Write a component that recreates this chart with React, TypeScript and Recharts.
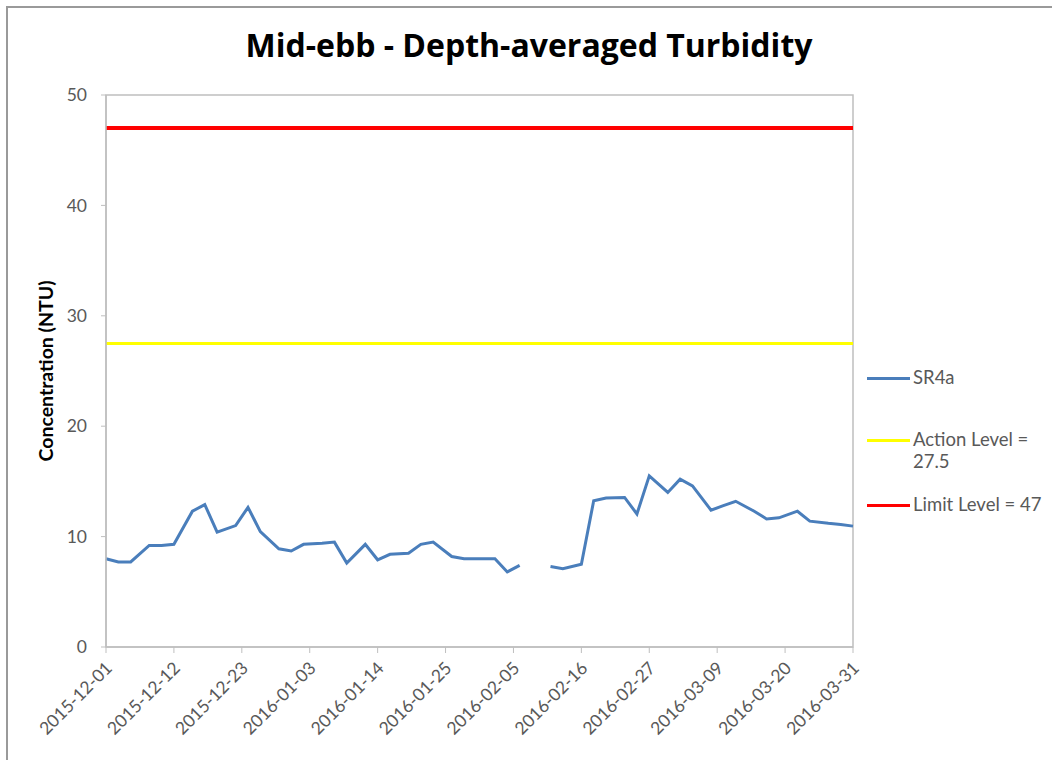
import React from 'react';
import { LineChart, Line, XAxis, YAxis, ReferenceLine, ReferenceArea, Legend } from 'recharts';

// 測定日と濁度（SR4a）
const DATES = [
  '2015-12-01', '2015-12-03', '2015-12-05', '2015-12-08', '2015-12-10', '2015-12-12',
  '2015-12-15', '2015-12-17', '2015-12-19', '2015-12-22', '2015-12-24', '2015-12-26',
  '2015-12-29', '2015-12-31', '2016-01-02', '2016-01-05', '2016-01-07', '2016-01-09',
  '2016-01-12', '2016-01-14', '2016-01-16', '2016-01-19', '2016-01-21', '2016-01-23',
  '2016-01-26', '2016-01-28', '2016-01-30', '2016-02-02', '2016-02-04', '2016-02-06',
  '2016-02-09', '2016-02-11', '2016-02-13', '2016-02-16', '2016-02-18', '2016-02-20',
  '2016-02-23', '2016-02-25', '2016-02-27', '2016-03-01', '2016-03-03', '2016-03-05',
  '2016-03-08', '2016-03-10', '2016-03-12', '2016-03-15', '2016-03-17', '2016-03-19',
  '2016-03-22', '2016-03-24', '2016-03-27', '2016-03-29', '2016-03-31',
];

const SR4A: (number | null)[] = [
  8.0, 7.7, 7.7, 9.2, 9.2, 9.3,
  12.3, 12.9, 10.4, 11.0, 12.65, 10.45,
  8.9, 8.7, 9.3, 9.4, 9.5, 7.6,
  9.3, 7.9, 8.4, 8.5, 9.3, 9.5,
  8.2, 8.0, 8.0, 8.0, 6.8, 7.4,
  null, 7.3, 7.1, 7.5, 13.25, 13.5,
  13.55, 12.05, 15.5, 14.0, 15.2, 14.6,
  12.4, 12.8, 13.2, 12.3, 11.6, 11.7,
  12.3, 11.4, 11.2, 11.1, 10.95,
];

const ACTION_LEVEL = 27.5;
const LIMIT_LEVEL = 47;

const X_TICKS = [
  '2015-12-01', '2015-12-12', '2015-12-23', '2016-01-03', '2016-01-14', '2016-01-25',
  '2016-02-05', '2016-02-16', '2016-02-27', '2016-03-09', '2016-03-20', '2016-03-31',
];
const Y_TICKS = [0, 10, 20, 30, 40, 50];

const LEGEND_ITEMS = [
  { label: ['SR4a'], color: '#4A7EBB' },
  { label: ['Action Level =', '27.5'], color: '#FFFF00' },
  { label: ['Limit Level = 47'], color: '#FF0000' },
];

const FONT = 'Lato, "Open Sans", sans-serif';
const GREY = '#595959';

const toTime = (d: string) => Date.parse(d);
const toLabel = (t: number) => new Date(t).toISOString().slice(0, 10);

const data = DATES.map((d, i) => ({ t: toTime(d), value: SR4A[i] }));
const xStart = toTime(DATES[0]);
const xEnd = toTime(DATES[DATES.length - 1]);

// 斜め45度の日付ラベル
function DateTick(props: any) {
  const { x, y, payload } = props;
  return (
    <g transform={`translate(${x + 3},${y + 10})`}>
      <text
        x={0}
        y={6}
        textAnchor="end"
        fill={GREY}
        fontSize={17.5}
        fontFamily={FONT}
        transform="rotate(-45)"
      >
        {toLabel(payload.value)}
      </text>
    </g>
  );
}

function LegendBox() {
  return (
    <div style={{ fontFamily: FONT, fontSize: 18.5, color: GREY }}>
      {LEGEND_ITEMS.map((item, i) => (
        <div key={i} style={{ display: 'flex', alignItems: 'flex-start', marginBottom: i === 0 ? 40 : 21 }}>
          <span
            style={{
              display: 'inline-block',
              width: 43,
              height: 3,
              background: item.color,
              marginTop: 11,
              marginRight: 3,
            }}
          />
          <span style={{ lineHeight: '22px' }}>
            {item.label.map((l, j) => (
              <div key={j}>{l}</div>
            ))}
          </span>
        </div>
      ))}
    </div>
  );
}

export default function App() {
  return (
    <div
      style={{
        position: 'absolute',
        left: 0,
        top: 0,
        width: 1052,
        height: 760,
        overflow: 'hidden',
        background: '#fff',
      }}
    >
      <div
        style={{
          position: 'absolute',
          left: 6,
          top: 6,
          width: 1200,
          height: 900,
          border: '2px solid #9a9a9a',
        }}
      />
      <div
        style={{
          position: 'absolute',
          left: 0,
          top: 23,
          width: 1058,
          textAlign: 'center',
          fontFamily: '"Open Sans", Lato, sans-serif',
          fontWeight: 'bold',
          fontSize: 32,
          color: '#000',
        }}
      >
        Mid-ebb - Depth-averaged Turbidity
      </div>
      <div style={{ position: 'absolute', left: 0, top: 0 }}>
        <LineChart
          width={1052}
          height={760}
          data={data}
          margin={{ top: 95, right: 199, bottom: 0, left: 0 }}
        >
          <ReferenceArea
            x1={xStart}
            x2={xEnd}
            y1={0}
            y2={50}
            fill="none"
            stroke="#bfbfbf"
            strokeWidth={1.5}
          />
          <XAxis
            dataKey="t"
            type="number"
            domain={[xStart, xEnd]}
            ticks={X_TICKS.map(toTime)}
            height={113}
            axisLine={{ stroke: '#bfbfbf', strokeWidth: 1.5 }}
            tickLine={{ stroke: '#bfbfbf' }}
            tickSize={6}
            tick={<DateTick />}
            interval={0}
          />
          <YAxis
            type="number"
            domain={[0, 50]}
            ticks={Y_TICKS}
            width={106}
            axisLine={{ stroke: '#bfbfbf', strokeWidth: 1.5 }}
            tickLine={{ stroke: '#bfbfbf' }}
            tickSize={5}
            tickMargin={14}
            tick={{ fill: GREY, fontSize: 17.5, fontFamily: FONT }}
            label={{
              content: (p: any) => {
                const vb = p.viewBox;
                const cy = vb.y + vb.height / 2;
                return (
                  <text
                    x={53}
                    y={cy}
                    transform={`rotate(-90, 53, ${cy})`}
                    textAnchor="middle"
                    fontFamily={FONT}
                    fontWeight="bold"
                    fontSize={19.5}
                    fill="#000"
                  >
                    Concentration (NTU)
                  </text>
                );
              },
            }}
          />
          <ReferenceLine y={ACTION_LEVEL} stroke="#FFFF00" strokeWidth={3} />
          <ReferenceLine y={LIMIT_LEVEL} stroke="#FF0000" strokeWidth={4} />
          <Line
            type="linear"
            dataKey="value"
            name="SR4a"
            stroke="#4A7EBB"
            strokeWidth={3}
            dot={false}
            connectNulls={false}
            isAnimationActive={false}
          />
          <Legend
            content={() => <LegendBox />}
            wrapperStyle={{
              position: 'absolute',
              left: 867,
              top: 366,
              width: 185,
              height: 0,
              bottom: 'auto',
              overflow: 'visible',
            }}
          />
        </LineChart>
      </div>
    </div>
  );
}
